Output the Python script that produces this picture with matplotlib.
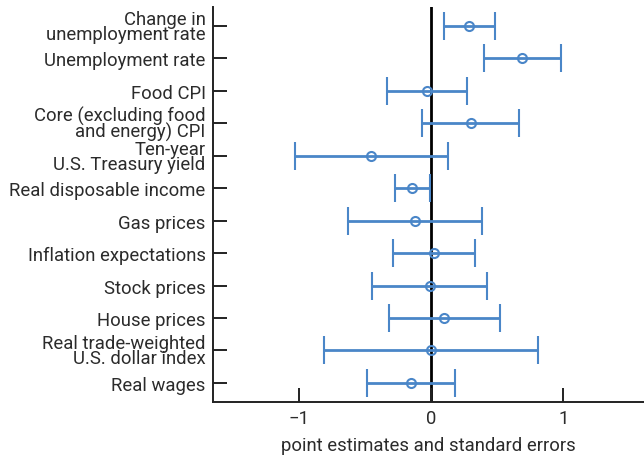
import matplotlib
matplotlib.use("Agg")
import matplotlib.pyplot as plt

plt.rcParams["font.family"] = ["Roboto", "DejaVu Sans"]

categories = [
    "Change in\nunemployment rate",
    "Unemployment rate",
    "Food CPI",
    "Core (excluding food\nand energy) CPI",
    "Ten-year\nU.S. Treasury yield",
    "Real disposable income",
    "Gas prices",
    "Inflation expectations",
    "Stock prices",
    "House prices",
    "Real trade-weighted\nU.S. dollar index",
    "Real wages",
]
estimates = [0.29, 0.69, -0.03, 0.30, -0.45, -0.14, -0.12, 0.02, -0.01, 0.10, 0.00, -0.15]
std_errors = [0.195, 0.29, 0.30, 0.365, 0.58, 0.133, 0.508, 0.31, 0.437, 0.42, 0.81, 0.335]
x_ticks = [-1, 0, 1]

text_color = "#2b2b2b"
blue = "#4a86c8"
fs = 13.3

fig = plt.figure(figsize=(6.44, 4.56), dpi=100)
ax = fig.add_axes([0.331, 0.117, 0.669, 0.865])

y = list(range(len(categories)))
ax.axvline(0, color="black", lw=2, zorder=1)
ax.errorbar(estimates, y, xerr=std_errors, fmt="o", color=blue, ecolor=blue,
            elinewidth=2, capsize=10, capthick=2, markersize=6.5,
            markerfacecolor="none", markeredgewidth=1.5, zorder=3)

ax.set_ylim(len(categories) - 0.42, -0.58)
ax.set_xlim(-1.647, 1.611)
ax.set_yticks(y)
ax.set_yticklabels(categories, fontsize=fs, color=text_color, linespacing=0.78)
ax.set_xticks(x_ticks)
ax.set_xticklabels(["\u2212" + str(abs(v)) if v < 0 else str(v) for v in x_ticks],
                   fontsize=fs, color=text_color)
ax.set_xlabel("point estimates and standard errors", fontsize=fs, color=text_color, labelpad=7)

for side in ("top", "right"):
    ax.spines[side].set_visible(False)
for side in ("left", "bottom"):
    ax.spines[side].set_linewidth(1.4)
    ax.spines[side].set_color("#222222")
ax.tick_params(direction="in", length=10, width=1.4, color="#222222")
ax.tick_params(axis="x", pad=5)
ax.tick_params(axis="y", pad=5.5)

fig.savefig("out.png", dpi=100)
